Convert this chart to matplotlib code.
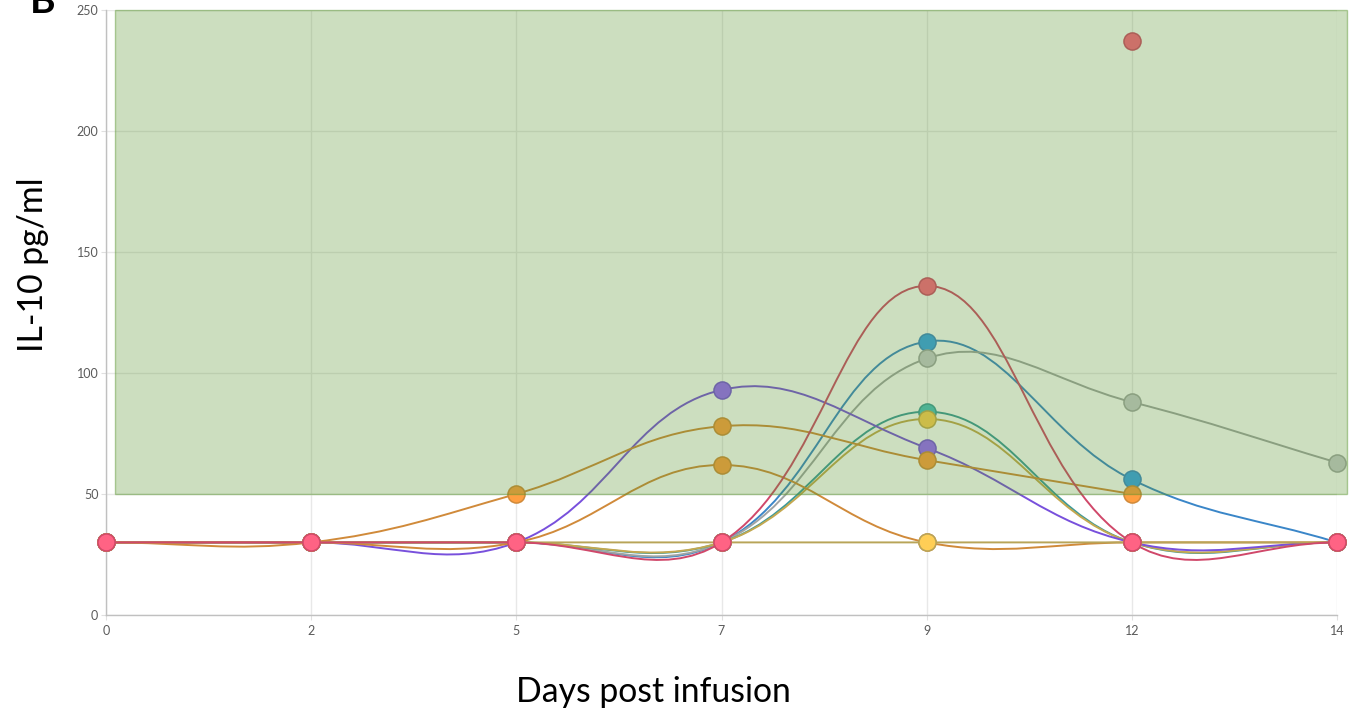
import numpy as np
import matplotlib.pyplot as plt
from matplotlib.path import Path
from matplotlib.patches import PathPatch, Rectangle

# categories on the x axis
days = ['0', '2', '5', '7', '9', '12', '14']

# IL-10 values per patient (None = not measured)
il10_blue = [30, 30, 30, 30, 113, 56, 30]
il10_grey = [30, 30, 30, 30, 106, 88, 63]
il10_teal = [30, 30, 30, 30, 84, 30, 30]
il10_yellow = [30, 30, 30, 30, 81, 30, 30]
il10_purple = [30, 30, 30, 93, 69, 30, 30]
il10_orange = [30, 30, 50, 78, 64, 50, None]
il10_orange2 = [30, 30, 30, 62, 30, 30, 30]
il10_flat = [30, 30, 30, 30, 30, 30, 30]
il10_red = [30, 30, 30, 30, 136, 30, 30]
il10_red2 = [None, None, None, None, None, 237, None]

band_low, band_high = 50, 250

# (values, point colour, line colour) in drawing order
series = [
    (il10_blue, '#36a2eb', '#3a86c8'),
    (il10_grey, '#c9cbcf', '#a0a4a4'),
    (il10_teal, '#4bc0c0', '#3c9a9a'),
    (il10_yellow, '#ffce56', '#c4a850'),
    (il10_purple, '#9966ff', '#7850dc'),
    (il10_orange, '#ff9f40', '#d08a3a'),
    (il10_orange2, '#ff9f40', '#d08a3a'),
    (il10_flat, '#ffce56', '#b8a458'),
    (il10_red, '#ff6384', '#d0486a'),
    (il10_red2, '#ff6384', '#d0486a'),
]


def spline_path(ax, xs, ys, tension=0.4):
    # bezier spline like chart.js, computed in pixel space
    pts = ax.transData.transform(np.column_stack([xs, ys]))
    n = len(pts)
    cp1 = pts.copy()
    cp2 = pts.copy()
    for i in range(n):
        prev = pts[max(i - 1, 0)]
        cur = pts[i]
        nxt = pts[min(i + 1, n - 1)]
        d01 = np.hypot(*(cur - prev))
        d12 = np.hypot(*(nxt - cur))
        tot = d01 + d12
        s01 = d01 / tot if tot else 0
        s12 = d12 / tot if tot else 0
        cp1[i] = cur - tension * s01 * (nxt - prev)
        cp2[i] = cur + tension * s12 * (nxt - prev)
    verts = [pts[0]]
    codes = [Path.MOVETO]
    for i in range(1, n):
        verts += [cp2[i - 1], cp1[i], pts[i]]
        codes += [Path.CURVE4] * 3
    return Path(ax.transData.inverted().transform(np.array(verts)), codes)


fig = plt.figure(figsize=(13.58, 7.12), dpi=100)
ax = fig.add_axes([106 / 1358, 1 - 615 / 712, (1337 - 106) / 1358, 605 / 712])
ax.set_xlim(0, len(days) - 1)
ax.set_ylim(0, 250)

ax.set_xticks(range(len(days)))
ax.set_xticklabels(days)
ax.set_yticks(range(0, 251, 50))
for sp in ['top', 'right']:
    ax.spines[sp].set_visible(False)
for sp in ['left', 'bottom']:
    ax.spines[sp].set_color('#c0c0c0')
    ax.spines[sp].set_linewidth(1)
ax.grid(True, color='#e8e8e8', lw=1, zorder=0)
ax.set_axisbelow(True)
ax.tick_params(length=3.5, color='#e0e0e0', labelsize=9, labelcolor='#5a5a5a',
               pad=2)
ax.tick_params(axis='x', pad=4)
for lab in ax.get_xticklabels() + ax.get_yticklabels():
    lab.set_family(['Lato', 'DejaVu Sans'])

x_idx = np.arange(len(days))
for k, (vals, fc, lc) in enumerate(series):
    z = 2 + k * 0.1
    # split into runs without gaps
    run = []
    runs = []
    for i, v in enumerate(vals):
        if v is None:
            if run:
                runs.append(run)
            run = []
        else:
            run.append(i)
    if run:
        runs.append(run)
    for r in runs:
        if len(r) > 1:
            p = spline_path(ax, x_idx[r], [vals[i] for i in r])
            ax.add_patch(PathPatch(p, fill=False, ec=lc, lw=1.4, zorder=z,
                                   clip_on=False))
    px = [i for i, v in enumerate(vals) if v is not None]
    py = [vals[i] for i in px]
    ax.plot(px, py, ls='none', marker='o', ms=12.3, mfc=fc, mec=lc, mew=1.1,
            zorder=z + 0.05, clip_on=False)

# green reference band drawn over the data
band = Rectangle((0.044, band_low), 6.05 - 0.044, band_high - band_low,
                 fc=(88 / 255, 148 / 255, 45 / 255, 0.3),
                 ec=(88 / 255, 148 / 255, 45 / 255, 0.45), lw=1,
                 zorder=10, clip_on=False)
ax.add_patch(band)

fig.text(653 / 1358, 1 - 692 / 712, 'Days post infusion', ha='center', va='center',
         fontsize=24.3, family=['Lato', 'DejaVu Sans'])
fig.text(33 / 1358, 1 - 265 / 712, 'IL-10 pg/ml', ha='center', va='center',
         rotation=90, fontsize=24.3, family=['Lato', 'DejaVu Sans'])
fig.text(30 / 1358, 1 - 13 / 712, 'B', ha='left', va='baseline', fontsize=28,
         fontweight='bold', family=['Lato', 'DejaVu Sans'])

fig.savefig('out.png', dpi=100)
